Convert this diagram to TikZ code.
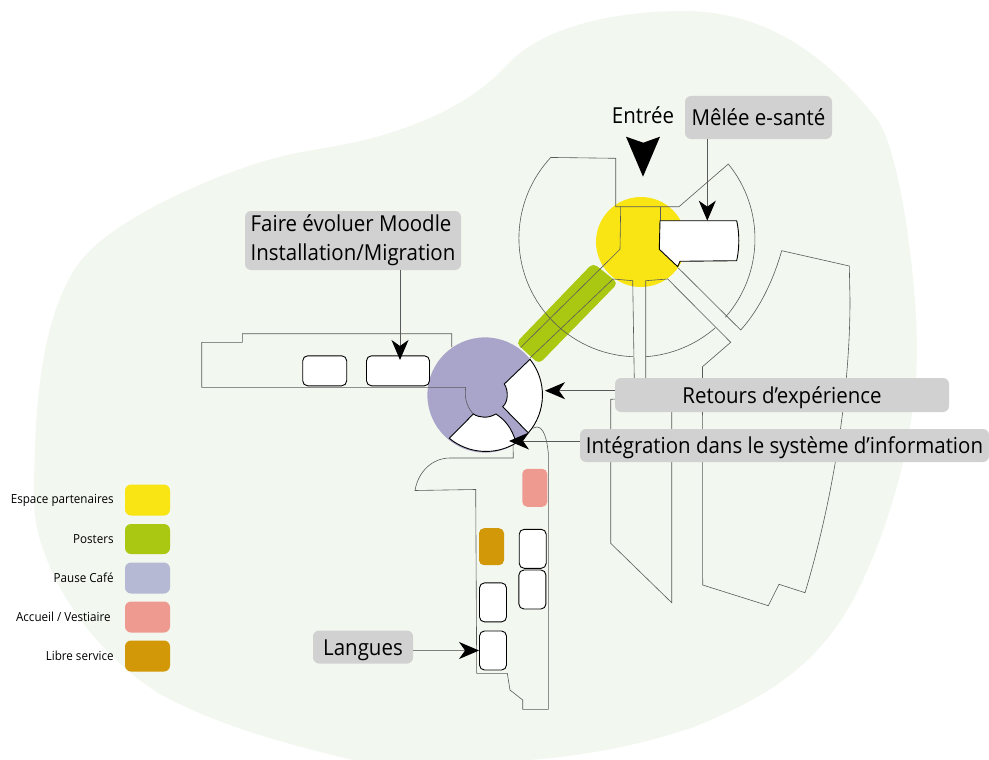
\documentclass[tikz,border=0pt]{standalone}
\usepackage{fontspec}
\setmainfont[FakeStretch=0.93]{Open Sans}
\usepackage{xcolor}
\usetikzlibrary{positioning}
\usetikzlibrary{arrows.meta}
\definecolor{fond}{HTML}{F2F7EF}
\definecolor{panneau}{HTML}{D1D1D1}
\definecolor{partenaire}{HTML}{F9E514}
\definecolor{poster}{HTML}{AAC811}
\definecolor{pause}{HTML}{A8A4CA}
\definecolor{pauselegende}{HTML}{B5B9D3}
\definecolor{accueil}{HTML}{EE9A90}
\definecolor{libre}{HTML}{D29807}
\definecolor{trait}{HTML}{5A5A5A}
\tikzset{panel/.style={fill=panneau,rounded corners=6pt,inner sep=0pt,font=\fontsize{22}{29}\selectfont},
  panelun/.style={panel,text height=18.6pt,text depth=2.6pt},
  salle/.style={draw=black,fill=white,rounded corners=5pt,line width=0.9pt,inner sep=0pt},
  swatch/.style={rounded corners=6pt,minimum width=45pt,minimum height=31pt,inner sep=0pt},
  legende/.style={font=\fontsize{12.5}{14}\selectfont,inner sep=0pt},
  mur/.style={draw=trait,line width=0.6pt},
  fleche/.style={draw=trait,line width=1pt,-{Stealth[length=20pt,width=17pt,inset=6pt,black]}},}
\begin{document}
\begin{tikzpicture}[x=1pt,y=-1pt,node distance=11pt]
    \useasboundingbox (0,0) rectangle (989,760);
    \clip (0,0) rectangle (989,760);

    % terrain
    \fill[fond] (34,500) .. controls (34,400) and (42,320) .. (76,267)
      .. controls (95,240) and (125,223) .. (153,207)
      .. controls (195,185) and (245,165) .. (287,155)
      .. controls (320,148) and (350,145) .. (383,135)
      .. controls (440,118) and (480,95) .. (509,63)
      .. controls (545,25) and (620,11) .. (683,11)
      .. controls (770,11) and (830,60) .. (877,119)
      .. controls (900,150) and (917,280) .. (917,350)
      .. controls (917,430) and (890,530) .. (853,600)
      .. controls (815,670) and (760,700) .. (694,727)
      .. controls (640,745) and (590,755) .. (530,760)
      .. controls (470,775) and (410,775) .. (353,760)
      .. controls (290,745) and (215,725) .. (158,693)
      .. controls (115,665) and (85,630) .. (63,593)
      .. controls (45,560) and (34,530) .. (34,500) -- cycle;

    % zones
    \fill[partenaire] (641,242) circle [radius=45];
    \fill[poster,rounded corners=5pt] (593,263) -- (618,283) -- (539,364) -- (516,343) -- cycle;
    \fill[pause] (485,395) circle [radius=57.6];

    % batiments
    \path[mur] (633.3,356.7) arc [start angle=92,end angle=223,radius=118.5] -- (615.7,158.3) -- (615.7,206.7)
      -- (679,206.7) -- (728.3,164) arc [start angle=-39.2,end angle=41.4,radius=118.5];
    \path[mur] (645.7,356.7) arc [start angle=86,end angle=48.8,radius=118.5];
    \path[mur] (620.7,206.7) -- (620,249.3) -- (520.7,347.5);
    \path[mur] (660,206.7) -- (660,221);
    \path[mur] (634.3,380) -- (632.7,280.7) -- (613,279) -- (530,358);
    \path[mur] (645.7,380) -- (645.7,280.7) -- (667.7,279) -- (730.7,342.3) -- (702.5,366.7) -- (702.7,585)
      -- (768.3,605.7) -- (779,584.3) -- (805,592.7) .. controls (830,510) and (850,400) .. (850,300)
      -- (849.3,266) -- (781.7,250.7) .. controls (772,285) and (757,312) .. (740.7,330) -- (678.3,268);
    \path[mur] (671.7,405) -- (671.7,602.7) -- (610.7,543.3) -- (610.7,399.3) -- (618,399);
    \path[mur] (451.7,347) -- (451.7,333.7) -- (242.3,333.7) -- (242.3,342.3) -- (201.7,342.3) -- (201.7,387.3)
      -- (465.7,387.3) .. controls (464,400) and (468,408) .. (473.3,414);
    \path[mur] (513,440) -- (513.3,458) -- (450,458) .. controls (432,458) and (418,472) .. (415,490.5)
      -- (475.7,489.5) -- (476.7,673.3) -- (507.3,673.3) -- (510,690) -- (522.7,700) -- (522.7,709.3)
      -- (548.3,709.3) -- (548.3,453) .. controls (547,440) and (544,427) .. (536.7,427) -- (532.7,428.3);

    % espaces blancs
    \path[draw=black,fill=white,line width=0.9pt] (660,220.7) -- (736.7,220.7) .. controls (739.5,233) and (739.5,248) .. (736.7,260.7)
      -- (680,261.3) -- (677.7,266.7) -- (659.3,249.3) -- cycle;
    \path[draw=black,fill=white,line width=0.9pt] (530,359.3) arc [start angle=-38.4,end angle=41,radius=57.6]
      -- (502.7,406.7) .. controls (508.5,402) and (508.5,390) .. (504.3,384) -- cycle;
    \path[draw=black,fill=white,line width=0.9pt] (449.3,438.3) arc [start angle=129.5,end angle=58.4,radius=57.6]
      .. controls (512,428) and (505,420) .. (496,414) .. controls (488,418.5) and (480,418) .. (473.3,414) -- cycle;

    \node[salle,minimum width=44pt,minimum height=30pt] (atelier1) at (324.7,370.8) {};
    \node[salle,minimum width=63pt,minimum height=30pt] (faire) at (398,370.8) {};
    \node[salle,minimum width=27pt,minimum height=39pt] (salle1) at (532.7,548.8) {};
    \node[salle,minimum width=27pt,minimum height=39pt] (salle2) at (532.4,589.5) {};
    \node[salle,minimum width=27pt,minimum height=39pt] (salle3) at (493,602.4) {};
    \node[salle,minimum width=27pt,minimum height=39pt] (salle4) at (493,650.5) {};
    \node[rounded corners=5pt,fill=accueil,minimum width=25pt,minimum height=38pt,inner sep=0pt] (vestiaire) at (534.8,487.8) {};
    \node[rounded corners=5pt,fill=libre,minimum width=25pt,minimum height=37pt,inner sep=0pt] (service) at (491.5,546.7) {};

    % panneaux
    \node[font=\fontsize{22}{24}\selectfont,inner sep=0pt] (entree) at (643,115) {Entrée};
    \fill[black] (626,136.7) -- (643.3,142.7) -- (660,136.7) -- (643,176.7) -- cycle;
    \node[panelun,minimum width=147pt,minimum height=43pt] (melee) at (758.5,117.5) {Mêlée e-santé};
    \node[panel,minimum width=216pt,minimum height=59pt,align=left] (moodle) at (353,240.5) {Faire évoluer Moodle\\Installation/Migration};
    \node[panelun,minimum width=334pt,minimum height=34pt] (retours) at (782,395) {Retours d’expérience};
    \node[panelun,minimum width=409pt,minimum height=33pt] (integration) at (784.5,445.5) {Intégration dans le système d’information};
    \node[panelun,minimum width=100pt,minimum height=33pt] (langues) at (363,647) {Langues};

    \coordinate (stand) at (707.3,220.7);
    \coordinate (pauseest) at (545,390.7);
    \coordinate (pausesud) at (509,441);
    \draw[fleche] (melee.south -| stand) -- (stand);
    \draw[fleche] (moodle.south -| 400,0) -- (400,360);
    \draw[fleche] (pauseest -| retours.west) -- (pauseest);
    \draw[fleche] (pausesud -| integration.west) -- (pausesud);
    \draw[fleche,draw=gray] (langues.east |- salle4.west) -- (salle4.west);

    % legende
    \node[swatch,fill=partenaire] (sw1) at (147.5,500) {};
    \node[swatch,fill=poster,minimum height=30pt] (sw2) at (147.5,539) {};
    \node[swatch,fill=pauselegende] (sw3) at (147.5,578) {};
    \node[swatch,fill=accueil] (sw4) at (147.5,617) {};
    \node[swatch,fill=libre] (sw5) at (147.5,656) {};
    \node[legende,left = of sw1] {Espace partenaires};
    \node[legende,left = of sw2] {Posters};
    \node[legende,left = of sw3] {Pause Café};
    \node[legende,left = 14pt of sw4] {Accueil / Vestiaire};
    \node[legende,left = of sw5] {Libre service};
\end{tikzpicture}
\end{document}
